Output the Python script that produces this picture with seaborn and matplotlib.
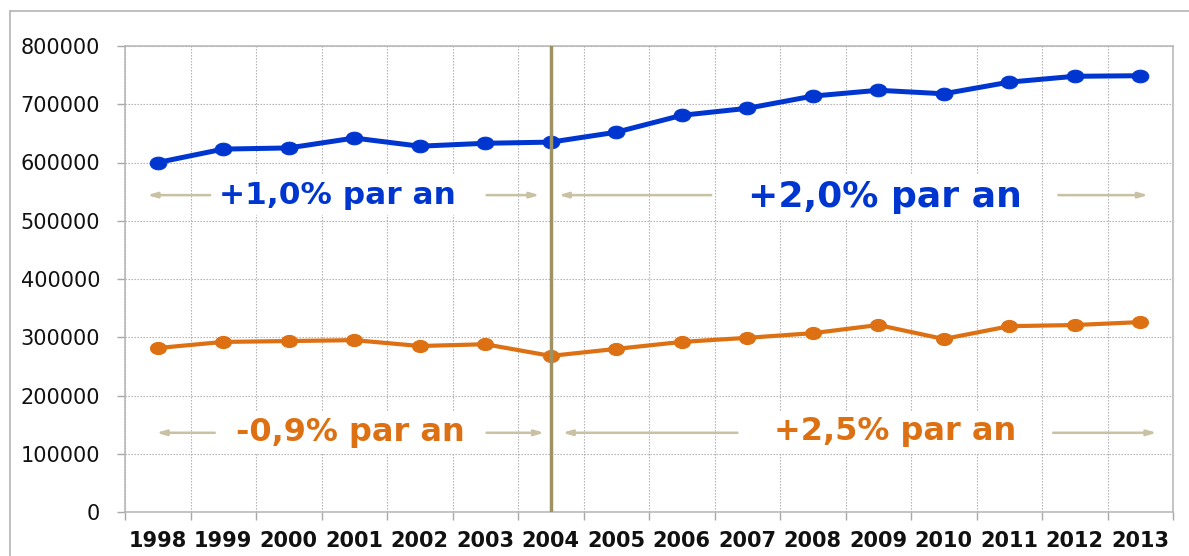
import numpy as np
import pandas as pd
import matplotlib
matplotlib.use("Agg")
import matplotlib.pyplot as plt
from matplotlib.lines import Line2D
from matplotlib.path import Path
from matplotlib.ticker import MultipleLocator, FixedLocator
import seaborn as sns

years = ["1998", "1999", "2000", "2001", "2002", "2003", "2004", "2005",
         "2006", "2007", "2008", "2009", "2010", "2011", "2012", "2013"]
blue_values = [600000, 623000, 625000, 642000, 628000, 633000, 635000, 652000,
               681000, 693000, 714000, 724000, 718000, 738000, 748000, 749000]
orange_values = [281500, 292000, 293500, 295000, 285000, 288000, 268000, 280000,
                 292000, 299000, 307000, 321000, 297000, 319000, 321000, 326000]
labels_blue = ["+1,0% par an", "+2,0% par an"]
labels_orange = ["-0,9% par an", "+2,5% par an"]

BLUE = "#0036d0"
ORANGE = "#dd7012"
TAN = "#c9c1a3"
VLINE = "#9e9264"

sns.set_style("white")
plt.rcParams["font.family"] = ["DejaVu Sans"]

df = pd.DataFrame({
    "idx": list(range(len(years))) * 2,
    "value": blue_values + orange_values,
    "serie": ["blue"] * len(years) + ["orange"] * len(years),
})

# slightly flattened round marker
circ = Path.unit_circle()
ellipse = Path(circ.vertices * np.array([1.0, 0.76]), circ.codes)

fig = plt.figure(figsize=(11.89, 5.56), dpi=100)
ax = fig.add_axes([125 / 1189, 1 - 512 / 556, (1173 - 125) / 1189, (512 - 46) / 556])

sns.lineplot(data=df[df.serie == "blue"], x="idx", y="value", ax=ax, color=BLUE,
             linewidth=3.6, marker=ellipse, markersize=12, markeredgecolor=BLUE,
             zorder=5, legend=False)
sns.lineplot(data=df[df.serie == "orange"], x="idx", y="value", ax=ax, color=ORANGE,
             linewidth=3.0, marker=ellipse, markersize=11.5, markeredgecolor=ORANGE,
             zorder=5, legend=False)

n = len(years)
ax.set_xlim(-0.5, n - 0.5)
ax.set_ylim(0, 800000)
ax.set_xlabel("")
ax.set_ylabel("")

ax.xaxis.set_major_locator(FixedLocator(np.arange(n)))
ax.set_xticklabels(years, fontsize=15, fontweight="bold", color="#111111")
ax.xaxis.set_minor_locator(FixedLocator(np.arange(n + 1) - 0.5))
ax.tick_params(axis="x", which="major", bottom=True, length=0, pad=14)
ax.tick_params(axis="x", which="minor", bottom=True, length=6, width=1, color="#a8a8a8", direction="out")
ax.yaxis.set_major_locator(MultipleLocator(100000))
ax.set_yticklabels([f"{int(v)}" for v in ax.get_yticks()], fontsize=15, color="#111111")
ax.tick_params(axis="y", which="major", left=True, length=6, width=1, color="#a8a8a8", direction="out", pad=12)

ax.grid(False)
ax.yaxis.grid(True, which="major", linestyle=(0, (1.2, 1.5)), color="#a8a8a8", linewidth=0.8)
ax.xaxis.grid(True, which="minor", linestyle=(0, (1.2, 1.5)), color="#a8a8a8", linewidth=0.8)
for s in ax.spines.values():
    s.set_visible(True)
    s.set_color("#b4b4b4")
    s.set_linewidth(1.1)

ax.axvline(6, color=VLINE, linewidth=2.5, zorder=6)

# annotations
def arrow(x0, x1, y):
    ax.annotate("", xy=(x1, y), xytext=(x0, y),
                arrowprops=dict(arrowstyle="-|>,head_length=0.55,head_width=0.16",
                                color=TAN, linewidth=1.8, shrinkA=0, shrinkB=0),
                zorder=7)

yb = 544000
arrow(0.80, -0.16, yb)
arrow(5.02, 5.83, yb)
arrow(8.45, 6.12, yb)
arrow(13.75, 15.12, yb)
ax.text(2.74, yb, labels_blue[0], color=BLUE, fontsize=22.5, fontweight="bold",
        ha="center", va="center", zorder=8,
        bbox=dict(facecolor="white", edgecolor="none", pad=4))
ax.text(11.10, 540000, labels_blue[1], color=BLUE, fontsize=26, fontweight="bold",
        ha="center", va="center", zorder=8,
        bbox=dict(facecolor="white", edgecolor="none", pad=4))

yo = 136000
arrow(0.87, -0.02, yo)
arrow(5.02, 5.90, yo)
arrow(8.85, 6.18, yo)
arrow(13.67, 15.25, yo)
ax.text(2.94, yo, labels_orange[0], color=ORANGE, fontsize=23, fontweight="bold",
        ha="center", va="center", zorder=8,
        bbox=dict(facecolor="white", edgecolor="none", pad=4))
ax.text(11.25, 137500, labels_orange[1], color=ORANGE, fontsize=23, fontweight="bold",
        ha="center", va="center", zorder=8,
        bbox=dict(facecolor="white", edgecolor="none", pad=4))

# outer chart frame
fig.add_artist(Line2D([10 / 1189, 1], [1 - 11 / 556, 1 - 11 / 556], color="#b4b4b4", linewidth=1.2))
fig.add_artist(Line2D([10 / 1189, 10 / 1189], [0, 1 - 11 / 556], color="#b4b4b4", linewidth=1.2))

fig.savefig("out.png", dpi=100)
